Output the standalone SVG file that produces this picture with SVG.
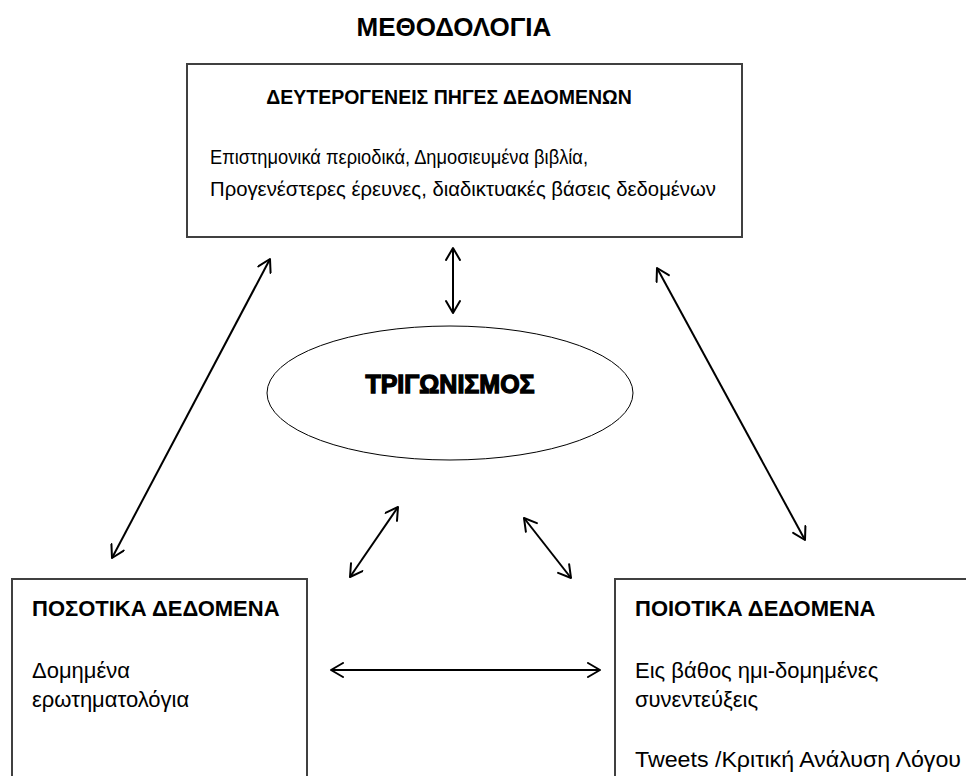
<svg xmlns="http://www.w3.org/2000/svg" width="966" height="776" viewBox="0 0 966 776">
  <style>
    .box { fill: #ffffff; stroke: #404040; stroke-width: 2; }
    .ell { fill: #ffffff; stroke: #000000; stroke-width: 1; }
    .title { font-family: "Liberation Sans", Arial, sans-serif; font-weight: bold; font-size: 26px; fill: #000; }
    .h1 { font-family: "Liberation Sans", Arial, sans-serif; font-weight: bold; font-size: 19.5px; fill: #000; }
    .b1 { font-family: "Liberation Sans", Arial, sans-serif; font-size: 19.5px; fill: #000; }
    .h2 { font-family: "Liberation Sans", Arial, sans-serif; font-weight: bold; font-size: 22px; fill: #000; }
    .b2 { font-family: "Liberation Sans", Arial, sans-serif; font-size: 22px; fill: #000; }
    .heavy { font-family: "Liberation Sans", Arial, sans-serif; font-weight: bold; font-size: 25px; fill: #000; stroke: #000; stroke-width: 1.3; }
    .conn { stroke: #000; stroke-width: 2; fill: none; marker-start: url(#ah); marker-end: url(#ah); }
  </style>
  <defs>
    <marker id="ah" viewBox="0 0 16 16" refX="14" refY="8" markerWidth="16" markerHeight="16" markerUnits="userSpaceOnUse" orient="auto-start-reverse">
      <path d="M2,1 L14,8 L2,15" fill="none" stroke="#000" stroke-width="2" stroke-linejoin="round" stroke-linecap="round"/>
    </marker>
  </defs>
  <rect width="966" height="776" fill="#ffffff"/>

  <text class="title" x="454" y="36" text-anchor="middle">ΜΕΘΟΔΟΛΟΓΙΑ</text>

  <g id="node-secondary">
    <rect class="box" x="187" y="64" width="555" height="173"/>
    <text class="h1" x="449" y="104" text-anchor="middle">ΔΕΥΤΕΡΟΓΕΝΕΙΣ ΠΗΓΕΣ ΔΕΔΟΜΕΝΩΝ</text>
    <text class="b1" x="210" y="164" textLength="378" lengthAdjust="spacingAndGlyphs">Επιστημονικά περιοδικά, Δημοσιευμένα βιβλία,</text>
    <text class="b1" x="210" y="196" textLength="506" lengthAdjust="spacingAndGlyphs">Προγενέστερες έρευνες, διαδικτυακές βάσεις δεδομένων</text>
  </g>

  <g id="node-triangulation">
    <ellipse class="ell" cx="450" cy="393" rx="183" ry="67"/>
    <text class="heavy" x="450" y="393" text-anchor="middle">ΤΡΙΓΩΝΙΣΜΟΣ</text>
  </g>

  <g id="node-quantitative">
    <rect class="box" x="12" y="579" width="295" height="220"/>
    <text class="h2" x="32" y="616">ΠΟΣΟΤΙΚΑ ΔΕΔΟΜΕΝΑ</text>
    <text class="b2" x="32" y="678">Δομημένα</text>
    <text class="b2" x="32" y="707">ερωτηματολόγια</text>
  </g>

  <g id="node-qualitative">
    <rect class="box" x="615" y="579" width="400" height="220"/>
    <text class="h2" x="635" y="616">ΠΟΙΟΤΙΚΑ ΔΕΔΟΜΕΝΑ</text>
    <text class="b2" x="635" y="678">Εις βάθος ημι-δομημένες</text>
    <text class="b2" x="635" y="707">συνεντεύξεις</text>
    <text class="b2" x="635" y="767" textLength="326" lengthAdjust="spacingAndGlyphs">Tweets /Κριτική Ανάλυση Λόγου</text>
  </g>

  <g id="connectors">
    <line class="conn" x1="453" y1="248" x2="453" y2="313"/>
    <line class="conn" x1="270" y1="259" x2="112" y2="558"/>
    <line class="conn" x1="657" y1="268" x2="805" y2="540"/>
    <line class="conn" x1="398" y1="507" x2="350" y2="577"/>
    <line class="conn" x1="524" y1="518" x2="571" y2="578"/>
    <line class="conn" x1="331" y1="670" x2="600" y2="670"/>
  </g>
</svg>
